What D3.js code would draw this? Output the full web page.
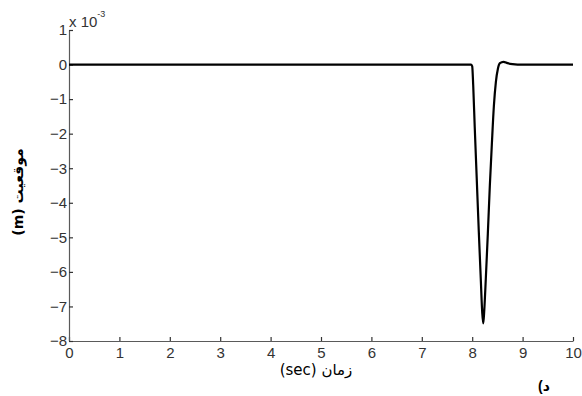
<!DOCTYPE html>
<html>
  <head>
    <meta charset="utf-8">
    <script src="https://cdn.jsdelivr.net/npm/d3@7"></script>
    <style>
      body { margin: 0; background: #fff; }
      svg { display: block; }
      text { font-family: "Liberation Sans", Arial, sans-serif; }
    </style>
  </head>
  <body>
    <script>
      // Størrelse
      const w = 582;
      const h = 396;

      // Data (tid i sek, position i 1e-3 m)
      const time = [0, 7.98, 8.00, 8.02, 8.05, 8.09, 8.13, 8.17, 8.20, 8.22,
                    8.24, 8.27, 8.31, 8.35, 8.39, 8.43, 8.47, 8.51, 8.55,
                    8.62, 8.70, 8.80, 8.90, 10];
      const pos = [0, 0, -0.05, -0.6, -1.8, -3.3, -4.8, -6.2, -7.2, -7.49,
                   -7.1, -6.2, -4.9, -3.5, -2.3, -1.2, -0.5, -0.12, 0.04,
                   0.08, 0.04, 0.01, 0, 0];
      const xTicks = [0, 1, 2, 3, 4, 5, 6, 7, 8, 9, 10];
      const yTicks = [1, 0, -1, -2, -3, -4, -5, -6, -7, -8];

      const xScale = d3.scaleLinear().domain([0, 10]).range([69, 573]);
      const yScale = d3.scaleLinear().domain([-8, 1]).range([341, 30]);

      const svg = d3.select("body").append("svg")
        .attr("width", w)
        .attr("height", h);

      // Akser (ticks peger indad)
      const xAxis = d3.axisBottom(xScale).tickValues(xTicks).tickSizeInner(-4).tickSizeOuter(0).tickPadding(6);
      const gx = svg.append("g")
        .attr("transform", "translate(0," + yScale(-8) + ")")
        .call(xAxis);

      const yAxis = d3.axisLeft(yScale).tickValues(yTicks).tickSizeInner(-4).tickSizeOuter(0).tickPadding(2);
      const gy = svg.append("g")
        .attr("transform", "translate(" + xScale(0) + ",0)")
        .call(yAxis);

      [gx, gy].forEach(function (g) {
        g.select(".domain").attr("stroke", "#5a5a5a").attr("stroke-width", 1.2);
        g.selectAll(".tick line").attr("stroke", "#333").attr("stroke-width", 1.2);
        g.selectAll(".tick text")
          .attr("fill", "#333")
          .style("font-size", "15px")
          .style("font-family", "'Liberation Sans', Arial, sans-serif");
      });

      // Kurve
      const line = d3.line()
        .x(function (d, i) { return xScale(time[i]); })
        .y(function (d) { return yScale(d); })
        .curve(d3.curveMonotoneX);

      svg.append("path")
        .datum(pos)
        .attr("d", line)
        .attr("fill", "none")
        .attr("stroke", "#000")
        .attr("stroke-width", 2.2)
        .attr("stroke-linejoin", "round");

      // Eksponent
      const ex = svg.append("text")
        .attr("x", 69)
        .attr("y", 27)
        .attr("fill", "#333")
        .style("font-size", "15px");
      ex.append("tspan").text("x 10");
      ex.append("tspan").attr("dy", -10).style("font-size", "9px").text("-3");

      // Akse-titler
      svg.append("text")
        .attr("transform", "translate(23,192) rotate(-90)")
        .attr("text-anchor", "middle")
        .attr("direction", "rtl")
        .attr("fill", "#000")
        .style("font-size", "14px")
        .style("font-weight", "bold")
        .style("font-family", "'DejaVu Sans', sans-serif")
        .text("موقعیت (m)");

      svg.append("text")
        .attr("x", 316)
        .attr("y", 375)
        .attr("text-anchor", "middle")
        .attr("direction", "rtl")
        .attr("fill", "#000")
        .style("font-size", "15px")
        .style("font-family", "'DejaVu Sans', sans-serif")
        .text("زمان (sec)");

      // Panel-mærke: parentes til venstre for bogstavet
      const tag = svg.append("text")
        .attr("x", 538)
        .attr("y", 391)
        .attr("fill", "#000")
        .style("font-size", "14px")
        .style("font-weight", "bold");
      tag.append("tspan")
        .style("font-family", "'Liberation Sans', Arial, sans-serif")
        .text("(");
      tag.append("tspan")
        .style("font-family", "'DejaVu Sans', sans-serif")
        .text("د");
    </script>
  </body>
</html>
